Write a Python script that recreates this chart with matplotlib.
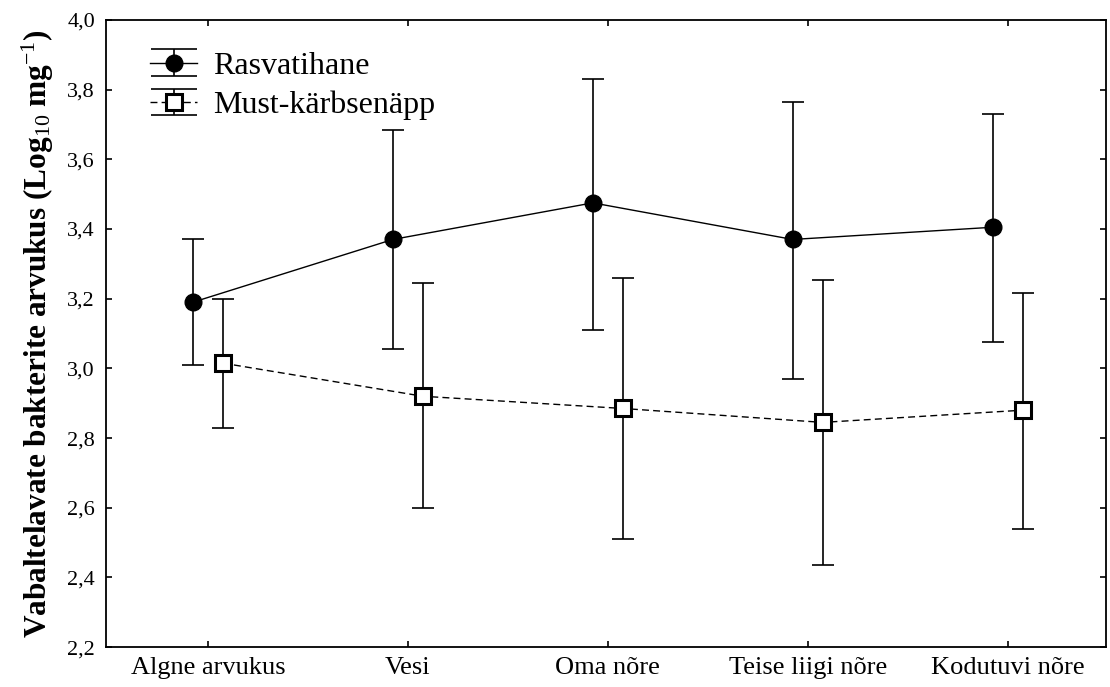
import numpy as np
import matplotlib
matplotlib.use("Agg")
import matplotlib.pyplot as plt
from matplotlib.legend_handler import HandlerErrorbar
from matplotlib.lines import Line2D

plt.rcParams['font.family'] = ['Liberation Serif', 'DejaVu Serif']
plt.rcParams['mathtext.fontset'] = 'custom'
plt.rcParams['mathtext.rm'] = 'Liberation Serif'
plt.rcParams['mathtext.it'] = 'Liberation Serif:italic'
plt.rcParams['mathtext.bf'] = 'Liberation Serif:bold'

# data
categories = ['Algne arvukus', 'Vesi', 'Oma nõre', 'Teise liigi nõre', 'Kodutuvi nõre']
ras_mean = [3.19, 3.37, 3.475, 3.37, 3.405]
ras_upper = [3.37, 3.685, 3.83, 3.765, 3.73]
ras_lower = [3.01, 3.055, 3.11, 2.97, 3.075]
must_mean = [3.015, 2.92, 2.885, 2.845, 2.88]
must_upper = [3.20, 3.245, 3.26, 3.255, 3.215]
must_lower = [2.83, 2.60, 2.51, 2.435, 2.54]


# legend handles with caps as wide as the handle
class WideCapHandler(HandlerErrorbar):
    def create_artists(self, legend, orig_handle, xdescent, ydescent,
                       width, height, fontsize, trans):
        arts = super().create_artists(legend, orig_handle, xdescent, ydescent,
                                      width, height, fontsize, trans)
        for a in arts:
            if isinstance(a, Line2D) and a.get_marker() == '_':
                a.set_markersize(width)
                a.set_markeredgewidth(1.2)
        return arts


x = np.arange(len(categories))
off = 0.075

fig = plt.figure(figsize=(11.1, 6.87), dpi=100)
ax = fig.add_axes([0.0955, 0.058, 0.9005, 0.913])

ras_mean = np.array(ras_mean)
must_mean = np.array(must_mean)
ras_err = [ras_mean - np.array(ras_lower), np.array(ras_upper) - ras_mean]
must_err = [must_mean - np.array(must_lower), np.array(must_upper) - must_mean]

ax.errorbar(x - off, ras_mean, yerr=ras_err, color='black', lw=1.0, ls='-',
            marker='o', ms=12, mfc='black', mec='black',
            capsize=8, capthick=1.2, elinewidth=1.2, label='Rasvatihane')
eb = ax.errorbar(x + off, must_mean, yerr=must_err, color='black', lw=1.0, ls=(0, (5, 3)),
                 marker='s', ms=12, mfc='white', mec='black', mew=2.2,
                 capsize=8, capthick=1.2, elinewidth=1.2, label='Must-kärbsenäpp')
for cap in eb[1]:
    cap.set_markeredgewidth(1.2)

ax.set_xlim(-0.51, 4.49)
ax.set_ylim(2.2, 4.0)
ax.set_xticks(x)
ax.set_xticklabels(categories, fontsize=19)
yt = np.arange(2.2, 4.01, 0.2)
ax.set_yticks(yt)
ax.set_yticklabels([f'{v:.1f}'.replace('.', ',') for v in yt], fontsize=16)
ax.tick_params(direction='in', length=4, width=1.2, top=True, right=True)
ax.tick_params(axis='y', pad=8)
ax.tick_params(axis='x', pad=7)
for s in ax.spines.values():
    s.set_linewidth(1.3)

ax.set_ylabel(r'Vabaltelavate bakterite arvukus (Log$_{10}$ mg$^{-1}$)',
              fontsize=22.5, fontweight='bold', labelpad=8)

ax.legend(loc='upper left', frameon=False, fontsize=23, handlelength=1.45,
          handletextpad=0.5, borderaxespad=0.3, labelspacing=0.3,
          bbox_to_anchor=(0.022, 0.985),
          handler_map={type(ax.containers[0]): WideCapHandler(yerr_size=0.42)})

fig.savefig('out.png', dpi=100)
